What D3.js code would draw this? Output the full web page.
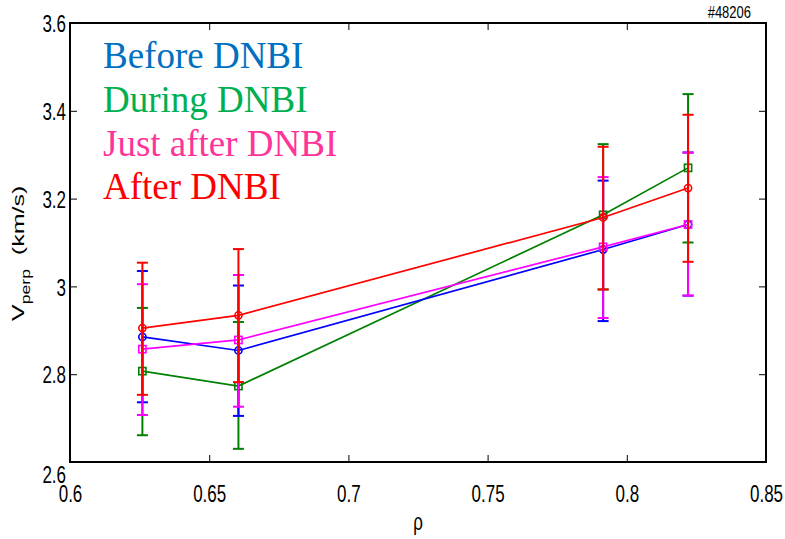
<!DOCTYPE html>
<html><head><meta charset="utf-8">
<script src="https://cdn.jsdelivr.net/npm/d3@7"></script>
<style>
html,body{margin:0;padding:0;background:#fff;}
svg{display:block;}
</style></head>
<body>
<svg id="chart" width="785" height="539"></svg>
<script>
// ---- data ----
const rho = [0.626, 0.6605, 0.7915, 0.822];
const xTicks = [0.6, 0.65, 0.7, 0.75, 0.8, 0.85];
const xTickLabels = ["0.6", "0.65", "0.7", "0.75", "0.8", "0.85"];
const yTicks = [2.6, 2.8, 3.0, 3.2, 3.4, 3.6];
const yTickLabels = ["2.6", "2.8", "3", "3.2", "3.4", "3.6"];

const seriesNames = ["Before DNBI", "During DNBI", "Just after DNBI", "After DNBI"];
const beforeV   = [2.885, 2.854, 3.084, 3.141];
const beforeLo  = [2.736, 2.705, 2.921, 2.979];
const beforeHi  = [3.035, 3.002, 3.241, 3.305];
const duringV   = [2.807, 2.773, 3.163, 3.270];
const duringLo  = [2.661, 2.630, 2.993, 3.100];
const duringHi  = [2.951, 2.919, 3.324, 3.438];
const justV     = [2.857, 2.878, 3.090, 3.141];
const justLo    = [2.707, 2.726, 2.928, 2.979];
const justHi    = [3.005, 3.026, 3.249, 3.305];
const afterV    = [2.905, 2.934, 3.157, 3.224];
const afterLo   = [2.753, 2.782, 2.993, 3.056];
const afterHi   = [3.054, 3.085, 3.318, 3.391];
const shotLabel = "#48206";

// ---- layout / style ----
const svg = d3.select("#chart");
const L = 70, R = 766, T = 23, B = 462;
const x = d3.scaleLinear().domain([0.6, 0.85]).range([L, R]);
const y = d3.scaleLinear().domain([2.6, 3.6]).range([B, T]);

const series = [
  {name: seriesNames[1], v: duringV, lo: duringLo, hi: duringHi, color: "#008000", marker: "square", legendColor: "#00B050", li: 1},
  {name: seriesNames[0], v: beforeV, lo: beforeLo, hi: beforeHi, color: "#0000FF", marker: "circle", legendColor: "#0070C0", li: 0},
  {name: seriesNames[2], v: justV, lo: justLo, hi: justHi, color: "#FF00FF", marker: "square", legendColor: "#FF3399", li: 2},
  {name: seriesNames[3], v: afterV, lo: afterLo, hi: afterHi, color: "#FF0000", marker: "circle", legendColor: "#FF0000", li: 3}
];

const tickFont = "'Liberation Sans', Arial, sans-serif";
const stretch = 1.37;

// bottom axis
const gx = svg.append("g").attr("transform", `translate(0,${B})`)
  .call(d3.axisBottom(x).tickValues(xTicks).tickSize(-7)
    .tickFormat((d, i) => xTickLabels[i]));
gx.select(".domain").remove();
gx.selectAll(".tick line").attr("stroke", "#000").attr("stroke-width", 1);
gx.selectAll(".tick text")
  .attr("y", 0).attr("dy", null)
  .attr("transform", `translate(0,40) scale(1,${stretch})`)
  .attr("font-family", tickFont).attr("font-size", 17).attr("fill", "#000");

// top axis (ticks only)
const gxt = svg.append("g").attr("transform", `translate(0,${T})`)
  .call(d3.axisTop(x).tickValues(xTicks).tickSize(-7).tickFormat(() => ""));
gxt.select(".domain").remove();
gxt.selectAll(".tick line").attr("stroke", "#000");

// left axis
const gy = svg.append("g").attr("transform", `translate(${L},0)`)
  .call(d3.axisLeft(y).tickValues(yTicks).tickSize(-7)
    .tickFormat((d, i) => yTickLabels[i]));
gy.select(".domain").remove();
gy.selectAll(".tick line").attr("stroke", "#000").attr("stroke-width", 1);
gy.selectAll(".tick text")
  .attr("x", 0).attr("dy", null).attr("text-anchor", "end")
  .attr("transform", d => `translate(-4,${8.6 + (d === 2.6 ? 12 : 0)}) scale(1,${stretch})`)
  .attr("font-family", tickFont).attr("font-size", 17).attr("fill", "#000");

// right axis (ticks only)
const gyr = svg.append("g").attr("transform", `translate(${R},0)`)
  .call(d3.axisRight(y).tickValues(yTicks).tickSize(-7).tickFormat(() => ""));
gyr.select(".domain").remove();
gyr.selectAll(".tick line").attr("stroke", "#000");

// box
svg.append("rect").attr("x", L).attr("y", T).attr("width", R - L).attr("height", B - T)
  .attr("fill", "none").attr("stroke", "#000").attr("stroke-width", 2);

// axis labels
svg.append("text")
  .attr("transform", `translate(24,${321}) rotate(-90) scale(1.47,1)`)
  .attr("font-family", tickFont).attr("font-size", 17).attr("fill", "#000")
  .call(t => {
    t.append("tspan").text("V");
    t.append("tspan").attr("font-size", 12).attr("dy", 6).text("perp");
    t.append("tspan").attr("dy", -6).text("\u00A0 (km/s)");
  });

svg.append("text")
  .attr("transform", `translate(${x(0.725)},530) scale(1,${stretch})`)
  .attr("text-anchor", "middle")
  .attr("font-family", tickFont).attr("font-size", 17).attr("fill", "#000")
  .text("\u03C1");

svg.append("text")
  .attr("transform", `translate(751,18) scale(1,1.2)`)
  .attr("text-anchor", "end")
  .attr("font-family", tickFont).attr("font-size", 13).attr("fill", "#000")
  .text(shotLabel);

// series
const line = d3.line().x((d, i) => x(rho[i])).y(d => y(d));
const capW = 5.5;

series.forEach(s => {
  const g = svg.append("g");
  g.append("path").datum(s.v).attr("d", line)
    .attr("fill", "none").attr("stroke", s.color).attr("stroke-width", 1.7);
  const eb = g.selectAll(".eb").data(rho).join("g");
  eb.append("line")
    .attr("x1", d => x(d)).attr("x2", d => x(d))
    .attr("y1", (d, i) => y(s.lo[i])).attr("y2", (d, i) => y(s.hi[i]))
    .attr("stroke", s.color).attr("stroke-width", 2);
  eb.append("line")
    .attr("x1", d => x(d) - capW).attr("x2", d => x(d) + capW)
    .attr("y1", (d, i) => y(s.lo[i])).attr("y2", (d, i) => y(s.lo[i]))
    .attr("stroke", s.color).attr("stroke-width", 2);
  eb.append("line")
    .attr("x1", d => x(d) - capW).attr("x2", d => x(d) + capW)
    .attr("y1", (d, i) => y(s.hi[i])).attr("y2", (d, i) => y(s.hi[i]))
    .attr("stroke", s.color).attr("stroke-width", 2);
  if (s.marker === "circle") {
    g.selectAll(".m").data(s.v).join("circle")
      .attr("cx", (d, i) => x(rho[i])).attr("cy", d => y(d)).attr("r", 3.6)
      .attr("fill", "none").attr("stroke", s.color).attr("stroke-width", 1.6);
  } else {
    g.selectAll(".m").data(s.v).join("rect")
      .attr("x", (d, i) => x(rho[i]) - 3.6).attr("y", d => y(d) - 3.6)
      .attr("width", 7.2).attr("height", 7.2)
      .attr("fill", "none").attr("stroke", s.color).attr("stroke-width", 1.6);
  }
});

// legend text
const legendBase = [68, 112, 156, 199];
series.slice().sort((a, b) => a.li - b.li).forEach((s, k) => {
  svg.append("text")
    .attr("x", 103).attr("y", legendBase[k])
    .attr("font-family", "'Liberation Serif', 'Times New Roman', serif")
    .attr("font-size", 37).attr("fill", s.legendColor)
    .text(s.name);
});
</script>
</body></html>
